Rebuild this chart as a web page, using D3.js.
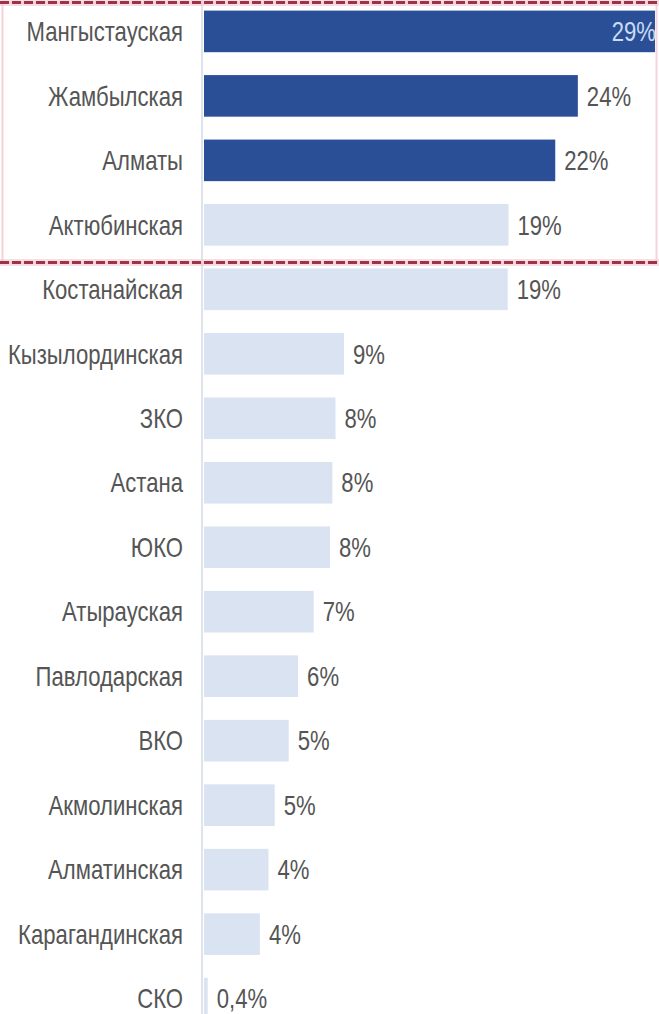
<!DOCTYPE html>
<html>
<head>
<meta charset="utf-8">
<script src="https://cdn.jsdelivr.net/npm/d3@7"></script>
<style>
  html, body { margin: 0; padding: 0; background: #fff; }
  svg { display: block; }
</style>
</head>
<body>
<svg id="chart" width="659" height="1014"></svg>
<script>
const categories = ["Мангыстауская","Жамбылская","Алматы","Актюбинская","Костанайская","Кызылординская","ЗКО","Астана","ЮКО","Атырауская","Павлодарская","ВКО","Акмолинская","Алматинская","Карагандинская","СКО"];
const values = [29, 24.05, 22.6, 19.6, 19.55, 9.05, 8.5, 8.3, 8.15, 7.1, 6.1, 5.5, 4.6, 4.2, 3.65, 0.3];
const valueLabels = ["29%","24%","22%","19%","19%","9%","8%","8%","8%","7%","6%","5%","5%","4%","4%","0,4%"];
const highlighted = ["Мангыстауская","Жамбылская","Алматы"];
const boxedCategories = ["Мангыстауская","Жамбылская","Алматы","Актюбинская"];

const W = 659, H = 1014;
const svg = d3.select("#chart");

const x = d3.scaleLinear().domain([0, 29]).range([203, 655]);
const y = d3.scaleBand().domain(categories).range([-1, 1031]).paddingInner(0.355).paddingOuter(0.18);

const font = "'Liberation Sans', Arial, sans-serif";
const FS = 27, SX = 0.82;

// axis line
const yAxis = d3.axisLeft(y).tickSize(0).tickFormat("");
svg.append("g").attr("transform", `translate(${x(0) - 1},0)`).call(yAxis)
  .call(g => g.select(".domain").attr("stroke", "#dfe3ea").attr("stroke-width", 2).attr("d", `M0,0V${H}`));

const data = categories.map((c, i) => ({ c, v: values[i], l: valueLabels[i] }));

svg.append("g").selectAll("rect").data(data).join("rect")
  .attr("x", x(0) + 1)
  .attr("y", d => y(d.c))
  .attr("width", d => x(d.v) - x(0) - 1)
  .attr("height", y.bandwidth())
  .attr("fill", d => highlighted.includes(d.c) ? "#2b4f97" : "#d9e3f1");

// category labels
svg.append("g").selectAll("text").data(data).join("text")
  .attr("transform", d => `translate(183,${y(d.c) + y.bandwidth() / 2}) scale(${SX},1)`)
  .attr("dy", "0.36em")
  .attr("text-anchor", "end")
  .attr("font-family", font)
  .attr("font-size", FS)
  .attr("fill", "#555")
  .text(d => d.c);

// value labels
svg.append("g").selectAll("text").data(data).join("text")
  .attr("transform", (d, i) => `translate(${i === 0 ? x(d.v) + 1 : x(d.v) + 9},${y(d.c) + y.bandwidth() / 2}) scale(${SX},1)`)
  .attr("dy", "0.36em")
  .attr("text-anchor", (d, i) => i === 0 ? "end" : "start")
  .attr("font-family", font)
  .attr("font-size", FS)
  .attr("fill", (d, i) => i === 0 ? "#c9dcf3" : "#555")
  .text(d => d.l);

// dashed red box around top group
const nextCat = categories[boxedCategories.length];
const boxBottom = y(nextCat) - 6;
const box = svg.append("g");
box.append("rect")
  .attr("x", 2.5).attr("y", 2.5)
  .attr("width", W - 5).attr("height", boxBottom - 2.5)
  .attr("fill", "none").attr("stroke", "#f6d3d9").attr("stroke-width", 2);
[2.5, boxBottom].forEach(yy => {
  box.append("line").attr("x1", 0).attr("x2", W).attr("y1", yy).attr("y2", yy)
    .attr("stroke", "#f4c8cf").attr("stroke-width", 7).attr("opacity", 0.6);
  box.append("line").attr("x1", 0).attr("x2", W).attr("y1", yy).attr("y2", yy)
    .attr("stroke", "#9e3248").attr("stroke-width", 3).attr("stroke-dasharray", "9,3");
});
</script>
</body>
</html>
